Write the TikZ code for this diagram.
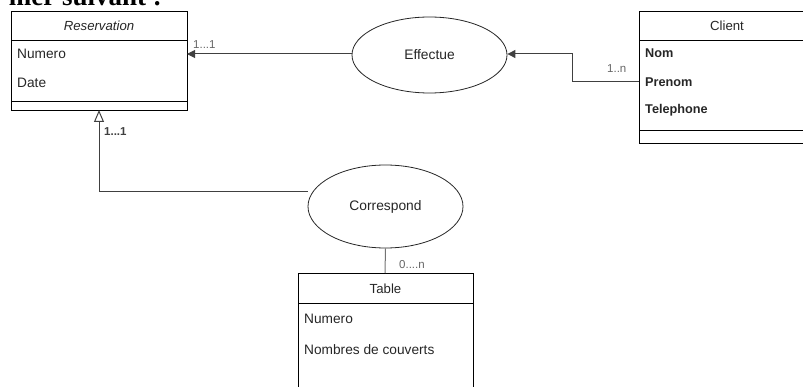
\documentclass[tikz,border=0pt]{standalone}
\usepackage{fontspec}
\setmainfont{Liberation Sans}
\newfontfamily\serifpart{Liberation Serif}
\usetikzlibrary{arrows.meta,shapes.geometric}
\begin{document}
\begin{tikzpicture}[x=1pt,y=-1pt,
  box/.style={draw=black,line width=0.9pt},
  attr/.style={anchor=west,font=\fontsize{13.7}{15}\selectfont,text=black!85,inner sep=0},
  battr/.style={attr,font=\fontsize{12.7}{15}\selectfont\bfseries},
  title/.style={font=\fontsize{13.2}{15}\selectfont,text=black!85,inner sep=0},
  rel/.style={ellipse,draw=black!85,line width=0.8pt,fill=white,minimum width=#1,font=\fontsize{13.8}{15}\selectfont,text=black!85},
  conn/.style={draw=black!75,line width=1pt},
  card/.style={font=\fontsize{11.5}{13}\selectfont,text=black!60,inner sep=0,anchor=base west}]
\useasboundingbox (0,0) rectangle (803,387);
\clip (0,0) rectangle (803,387);
% partially visible heading text
\node[anchor=base east,inner sep=0,font=\serifpart\fontsize{27}{30}\selectfont\bfseries] (head) at (162,5.5) {mer suivant :};
% Reservation class
\draw[box] (11,11) rectangle (187,110);
\draw[box] (11,40) -- (187,40);
\draw[box] (11,101) -- (187,101);
\node[title,font=\fontsize{13.2}{15}\selectfont\itshape] (restitle) at (99,25.5) {Reservation};
\node[attr] (resnum) at (17,53.5) {Numero};
\node[attr] (resdate) at (17,82.5) {Date};
\coordinate (resR) at (187,54);
\coordinate (resB) at (99,110);
% Client class
\draw[box] (639,11) rectangle (816,143);
\draw[box] (639,40) -- (816,40);
\draw[box] (639,130) -- (816,130);
\node[title] (clititle) at (727,25.5) {Client};
\node[battr] (clinom) at (645,53.5) {Nom};
\node[battr] (clipre) at (645,82) {Prenom};
\node[battr] (clitel) at (645,110.5) {Telephone};
\coordinate (cliL) at (639,82);
% Table class
\draw[box] (298,395) -- (298,273) -- (473,273) -- (473,395);
\draw[box] (298,303) -- (473,303);
\node[title] (tabtitle) at (385.5,289) {Table};
\node[attr] (tabnum) at (304,319) {Numero};
\node[attr] (tabcouv) at (304,350) {Nombres de couverts};
\coordinate (tabT) at (385,273);
% relations
\node[rel=155pt,minimum height=76pt] (eff) at (429.5,55) {Effectue};
\node[rel=155pt,minimum height=83pt] (corr) at (385.5,206.5) {Correspond};
% connectors
\draw[conn,-{Triangle[length=8pt,width=8pt]}] (eff.west |- resR) -- (resR);
\draw[conn,-{Triangle[length=8pt,width=8pt]}] (cliL) -- (572,82) -- (572,54) -- (eff.east |- 0,54);
\draw[conn,-{Triangle[open,length=12pt,width=10pt,fill=white]}] (corr.west |- 0,192) -- (99,192) -- (resB);
\draw[conn,draw=black!55] (corr.south) -- (tabT);
% cardinalities
\node[card] (c1) at (193,49) {1...1};
\node[card] (c2) at (607,73) {1..n};
\node[card,text=black!75,font=\fontsize{11.5}{13}\selectfont\bfseries] (c3) at (104,136) {1...1};
\node[card] (c4) at (399,269) {0....n};
\end{tikzpicture}
\end{document}
